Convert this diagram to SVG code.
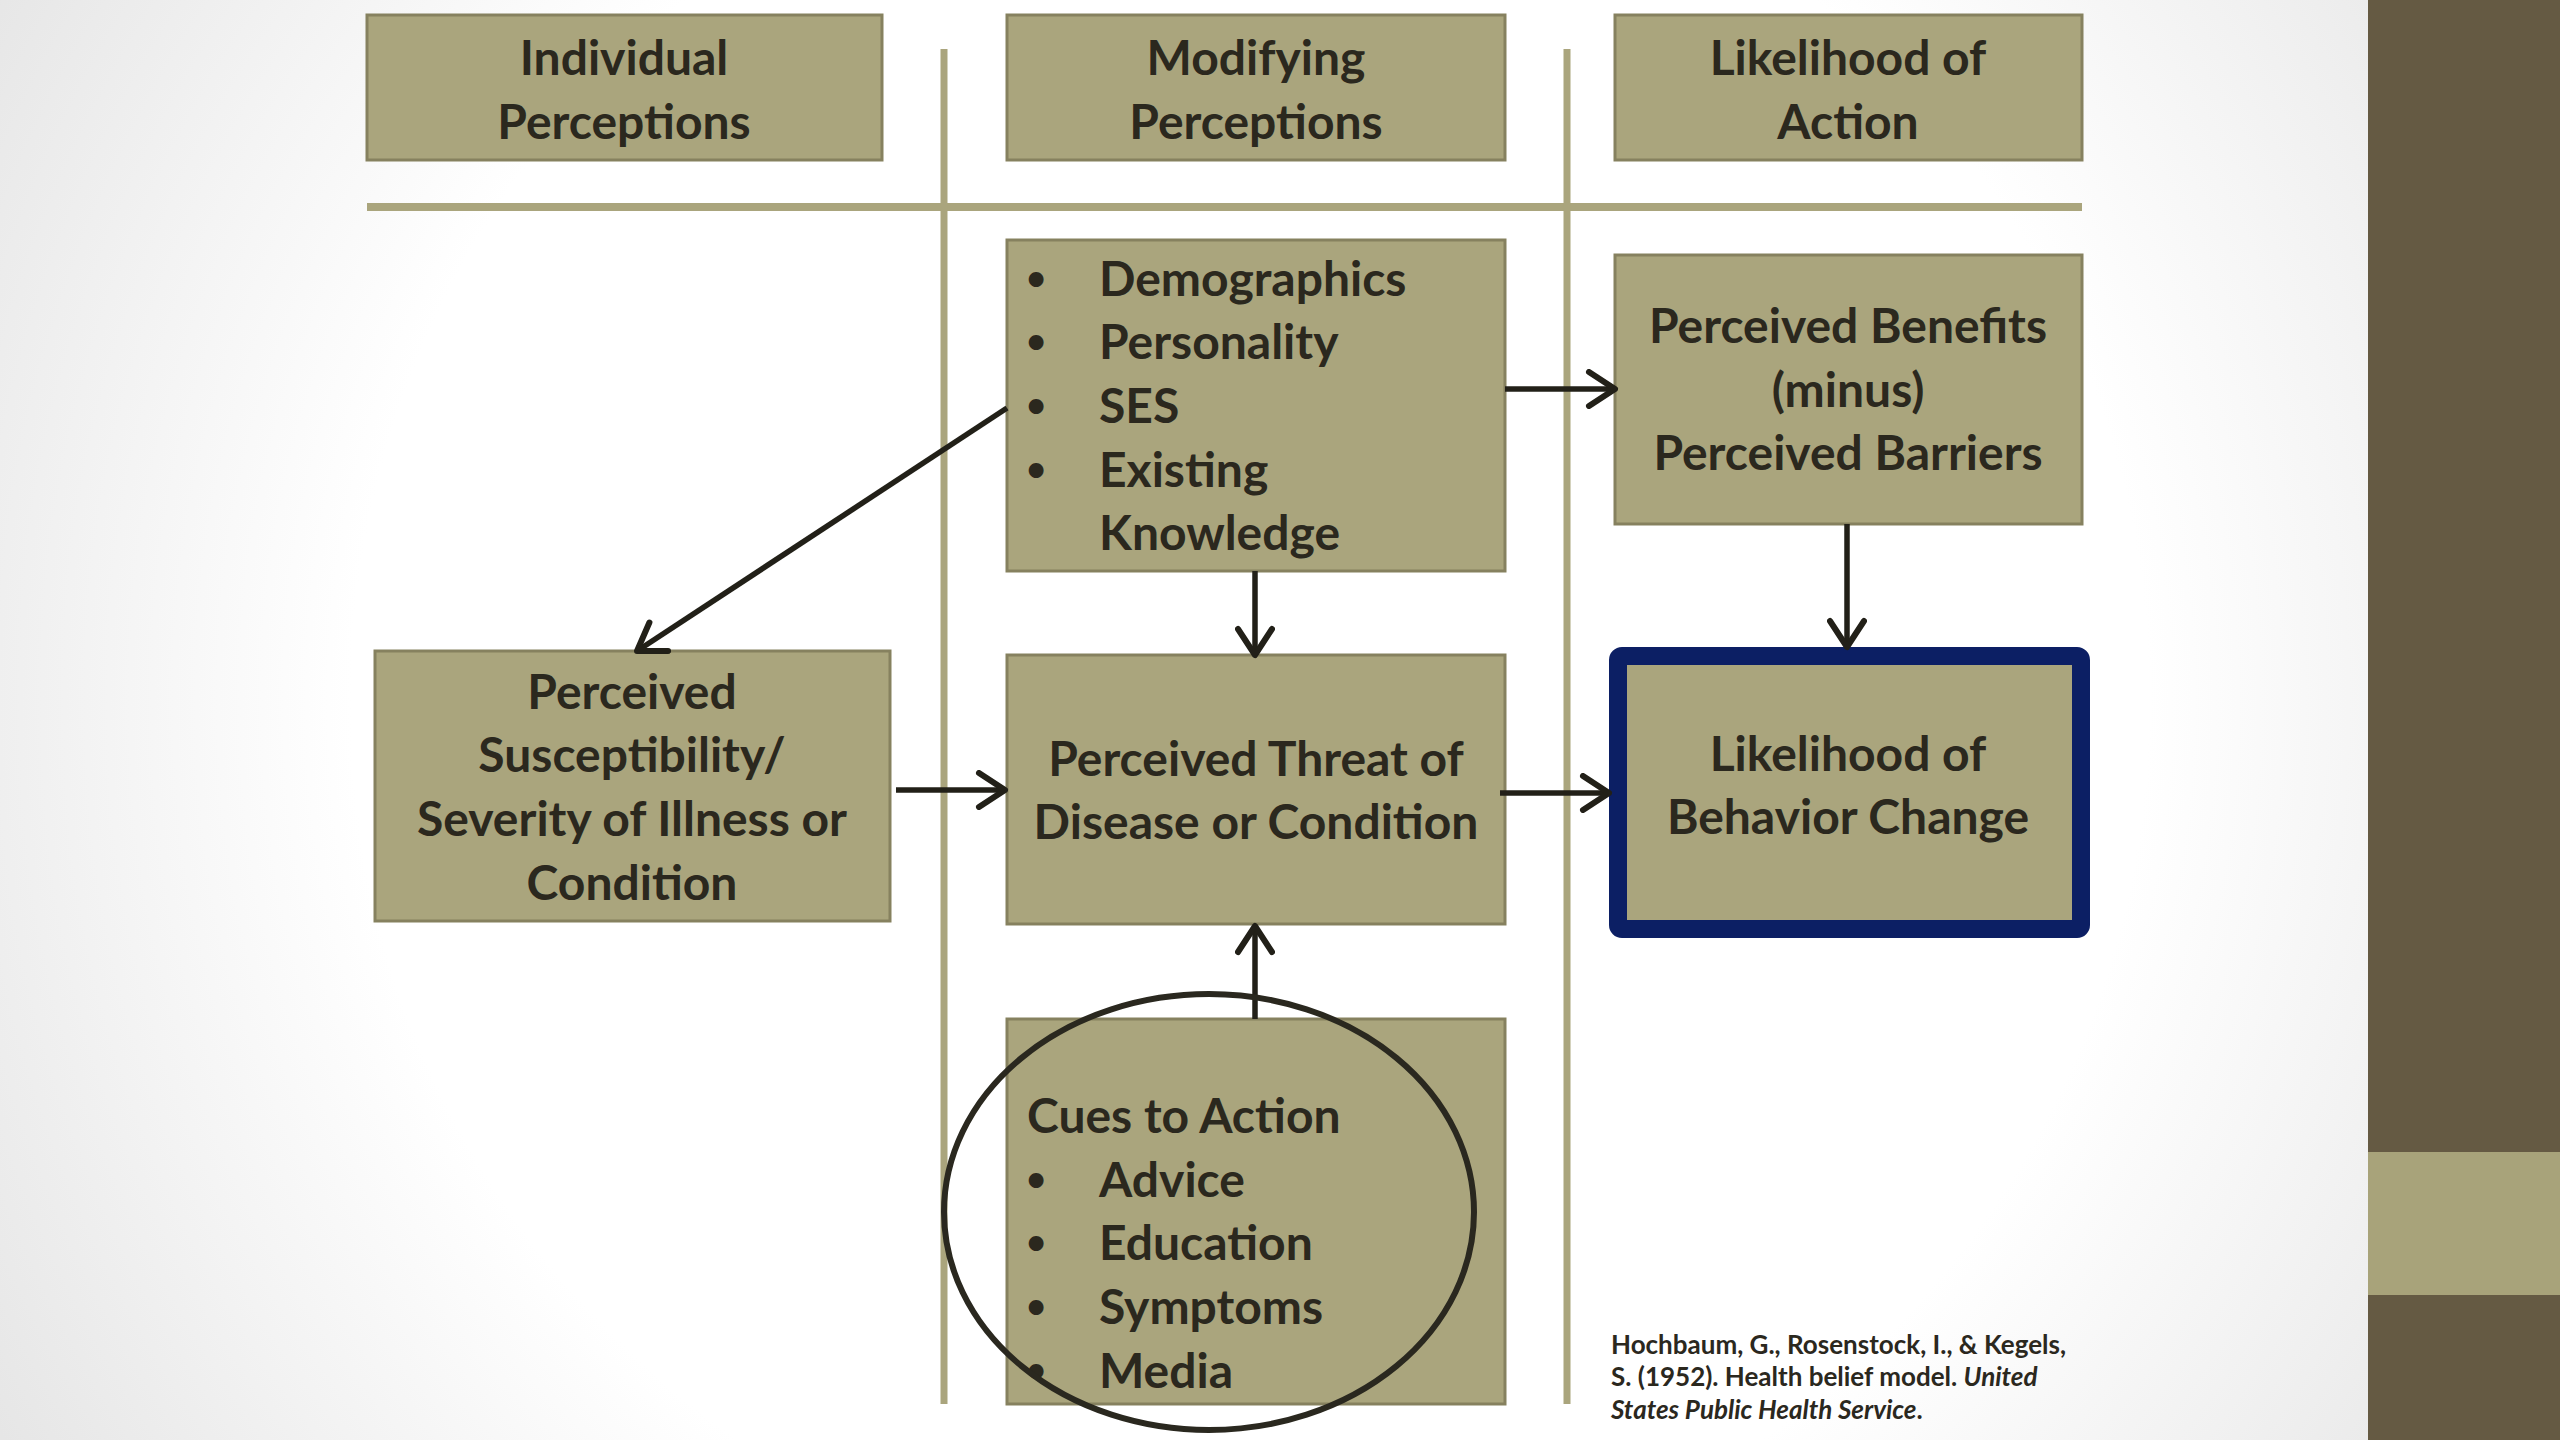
<svg xmlns="http://www.w3.org/2000/svg" width="2560" height="1440" viewBox="0 0 2560 1440">
<defs>
<radialGradient id="bg" cx="1250" cy="700" r="1450" gradientUnits="userSpaceOnUse">
<stop offset="0" stop-color="#ffffff"/>
<stop offset="0.62" stop-color="#ffffff"/>
<stop offset="1" stop-color="#e6e6e6"/>
</radialGradient>
<marker id="arr" viewBox="0 0 36 40" refX="31" refY="20" markerWidth="36" markerHeight="40" markerUnits="userSpaceOnUse" orient="auto">
<path d="M5,3 L31,20 L5,37" fill="none" stroke="#222018" stroke-width="6" stroke-linejoin="round" stroke-linecap="round"/>
</marker>
</defs>
<style>
.box{fill:#aaa57d;stroke:#86815f;stroke-width:3}
.t{font-family:Lato,"Open Sans","Liberation Sans",sans-serif;font-weight:700;font-size:48px;fill:#2b281e}
.c{text-anchor:middle}
.b{font-family:Lato,"Open Sans","Liberation Sans",sans-serif;font-weight:700;font-size:34px;fill:#2b281e;text-anchor:middle}
.sep{stroke:#aaa57d;fill:none}
.con{stroke:#222018;stroke-width:5.5;fill:none;marker-end:url(#arr)}
.cite{font-family:Lato,"Open Sans","Liberation Sans",sans-serif;font-weight:700;font-size:26px;fill:#2b281e}
</style>
<rect x="0" y="0" width="2560" height="1440" fill="url(#bg)"/>
<g id="sidebar">
<rect x="2368" y="0" width="192" height="1440" fill="#655a43"/>
<rect x="2368" y="1152" width="192" height="143" fill="#a8a37a"/>
</g>
<g id="separators">
<line class="sep" x1="367" y1="207" x2="2082" y2="207" stroke-width="8"/>
<line class="sep" x1="944" y1="49" x2="944" y2="1404" stroke-width="7"/>
<line class="sep" x1="1567" y1="49" x2="1567" y2="1404" stroke-width="7"/>
</g>
<g id="hdr-individual">
<rect class="box" x="367" y="15" width="515" height="145"/>
<text class="t c" x="624" y="75">Individual</text>
<text class="t c" x="624" y="139">Perceptions</text>
</g>
<g id="hdr-modifying">
<rect class="box" x="1007" y="15" width="498" height="145"/>
<text class="t c" x="1256" y="75">Modifying</text>
<text class="t c" x="1256" y="139">Perceptions</text>
</g>
<g id="hdr-likelihood">
<rect class="box" x="1615" y="15" width="467" height="145"/>
<text class="t c" x="1848" y="75">Likelihood of</text>
<text class="t c" x="1848" y="139">Action</text>
</g>
<g id="modifying-factors">
<rect class="box" x="1007" y="240" width="498" height="331"/>
<text class="b" x="1036" y="290">•</text>
<text class="t" x="1099" y="296">Demographics</text>
<text class="b" x="1036" y="353">•</text>
<text class="t" x="1099" y="359">Personality</text>
<text class="b" x="1036" y="417">•</text>
<text class="t" x="1099" y="423">SES</text>
<text class="b" x="1036" y="481">•</text>
<text class="t" x="1099" y="487">Existing</text>
<text class="t" x="1099" y="550">Knowledge</text>
</g>
<g id="benefits">
<rect class="box" x="1615" y="255" width="467" height="269"/>
<text class="t c" x="1848" y="343">Perceived Benefits</text>
<text class="t c" x="1848" y="407">(minus)</text>
<text class="t c" x="1848" y="470">Perceived Barriers</text>
</g>
<g id="susceptibility">
<rect class="box" x="375" y="651" width="515" height="270"/>
<text class="t c" x="632" y="709">Perceived</text>
<text class="t c" x="632" y="772">Susceptibility/</text>
<text class="t c" x="632" y="836">Severity of Illness or</text>
<text class="t c" x="632" y="900">Condition</text>
</g>
<g id="threat">
<rect class="box" x="1007" y="655" width="498" height="269"/>
<text class="t c" x="1256" y="776">Perceived Threat of</text>
<text class="t c" x="1256" y="839">Disease or Condition</text>
</g>
<g id="behavior-change">
<rect x="1618" y="656" width="463" height="273" rx="4" fill="#aaa57d" stroke="#0c1f64" stroke-width="18"/>
<text class="t c" x="1848" y="771">Likelihood of</text>
<text class="t c" x="1848" y="834">Behavior Change</text>
</g>
<g id="cues">
<rect class="box" x="1007" y="1019" width="498" height="385"/>
<text class="t" x="1027" y="1133">Cues to Action</text>
<text class="b" x="1036" y="1191">•</text>
<text class="t" x="1099" y="1197">Advice</text>
<text class="b" x="1036" y="1254">•</text>
<text class="t" x="1099" y="1260">Education</text>
<text class="b" x="1036" y="1318">•</text>
<text class="t" x="1099" y="1324">Symptoms</text>
<text class="b" x="1036" y="1382">•</text>
<text class="t" x="1099" y="1388">Media</text>
</g>
<g id="connectors">
<line class="con" x1="1007" y1="408" x2="637" y2="651"/>
<line class="con" x1="1505" y1="389" x2="1615" y2="389"/>
<line class="con" x1="1255" y1="571" x2="1255" y2="655"/>
<line class="con" x1="1847" y1="524" x2="1847" y2="647"/>
<line class="con" x1="896" y1="790" x2="1005" y2="790"/>
<line class="con" x1="1500" y1="793" x2="1609" y2="793"/>
<line class="con" x1="1255" y1="1019" x2="1255" y2="926"/>
</g>
<g id="cues-highlight">
<ellipse cx="1209" cy="1212" rx="265" ry="218" fill="none" stroke="#2a281f" stroke-width="6"/>
</g>
<g id="citation">
<text class="cite" x="1611" y="1354">Hochbaum, G., Rosenstock, I., &amp; Kegels,</text>
<text class="cite" x="1611" y="1386">S. (1952). Health belief model. <tspan font-style="italic">United</tspan></text>
<text class="cite" x="1611" y="1419"><tspan font-style="italic">States Public Health Service</tspan>.</text>
</g>
</svg>
